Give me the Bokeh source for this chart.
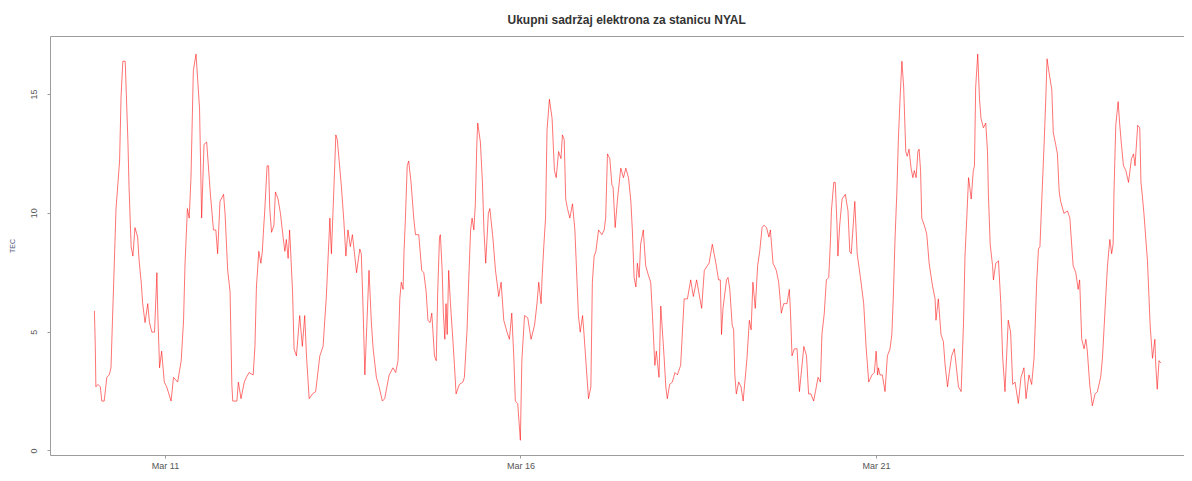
from datetime import datetime, timedelta
from bokeh.plotting import figure
from bokeh.models import Range1d, FixedTicker, DatetimeTickFormatter, LinearAxis
from bokeh.embed import file_html
from bokeh.resources import INLINE

title_text = "Ukupni sadržaj elektrona za stanicu NYAL"
y_label = "TEC"
start = datetime(2016, 3, 10)
tick_dates = [datetime(2016, 3, 11), datetime(2016, 3, 16), datetime(2016, 3, 21)]
y_ticks = [0, 5, 10, 15]

# hours since Mar 10 00:00
hours = [
    0.0, 0.3, 0.5, 1.2, 2.0, 2.5, 3.3, 4.2, 5.0, 5.6, 6.1, 6.8, 7.3, 7.9, 8.5, 9.0, 9.6, 10.4,
    11.3, 11.7, 12.4, 13.0, 13.7, 14.6, 15.1, 15.8, 16.3, 17.1, 18.0, 18.6, 19.4, 20.3, 21.1,
    21.4, 22.0, 22.7, 23.6, 24.4, 25.9, 26.7, 28.1, 29.3, 30.1, 30.6, 31.4, 32.0, 32.6, 33.4,
    34.3, 35.5, 36.2, 37.0, 37.9, 39.1, 40.2, 41.0, 41.6, 42.4, 43.6, 44.1, 45.0, 45.8, 46.4,
    46.7, 48.1, 48.6, 49.5, 50.6,
    51.3, 52.2, 53.6, 54.2, 54.7, 55.5, 56.2, 56.7, 57.0, 57.5, 58.3, 58.8, 59.2, 59.8, 60.6,
    61.1, 62.0, 62.8, 63.7, 64.3, 64.8, 65.4, 65.9, 66.9, 67.4, 68.2, 69.3, 70.2, 71.0, 71.6,
    72.5, 73.6, 74.7, 76.1, 77.2, 78.3, 79.5, 80.0, 80.9, 81.5, 82.0, 83.4, 84.2, 84.9, 85.6,
    86.4, 87.1, 87.9, 88.5, 89.6, 90.1, 90.7, 91.3, 92.7, 93.5, 94.1, 95.2, 96.1, 97.2, 98.0,
    99.5, 100.8, 101.7, 102.5, 103.1, 103.6, 104.2, 104.5,
    105.0, 105.6, 106.1, 106.9, 107.8, 108.4, 109.5, 110.5, 111.2, 112.0, 112.6, 113.3, 113.9,
    114.8, 115.4, 115.9, 116.5, 116.8, 117.4, 117.8, 118.3, 118.7, 119.1, 119.6, 120.2, 121.0,
    121.6, 122.1, 123.2, 124.4, 124.9, 125.8, 126.4, 127.0, 127.5, 128.1, 128.6, 129.1, 129.4,
    130.3, 131.0, 131.5, 132.1, 133.0, 133.5, 134.5, 135.4, 136.5, 137.3, 138.2, 139.3, 140.1,
    140.9, 141.6, 142.1, 142.9, 143.8, 144.3, 145.2, 146.3, 147.4, 148.6, 149.4, 150.0, 150.8,
    151.1, 151.7, 152.3, 152.8, 153.6, 154.5, 155.3, 155.9, 156.7, 157.5,
    158.0, 158.6, 159.1, 159.7, 160.5, 161.4, 162.2, 162.7, 163.4, 164.0, 164.8, 165.3, 165.9,
    166.8, 167.6, 168.1, 168.7, 169.3, 170.2, 171.3, 172.1, 172.6, 173.2, 174.0, 174.7, 175.1,
    175.8, 176.6, 177.7, 178.6, 179.4, 180.3, 181.1, 181.6, 182.2, 182.8, 183.3, 183.9, 184.4,
    185.3, 186.1, 187.0, 187.8, 188.4, 189.2, 189.7, 190.6, 191.2, 192.3, 192.9, 193.4, 194.2,
    195.1, 196.0, 196.8, 197.9, 199.1, 200.2, 201.3, 202.2, 203.3, 205.0, 205.9, 207.5, 208.6,
    209.8, 210.7,
    211.3, 211.7, 212.2, 213.4, 213.9, 214.5, 215.3, 215.8, 216.2, 216.7, 217.5, 218.3, 219.0,
    219.8, 220.3, 221.1, 221.7, 222.3, 223.1, 223.9, 224.6, 225.4, 226.0, 226.9, 227.7, 228.2,
    229.1, 230.2, 231.0, 231.9, 232.7, 233.8, 234.6, 235.0, 235.5, 236.3, 237.2, 238.0, 239.5,
    240.4, 241.1, 241.9, 242.8, 243.4, 244.3, 245.1, 245.6, 246.4, 247.1, 247.9, 248.5, 248.8,
    249.6, 250.1, 250.7, 251.0, 251.6, 252.4, 253.5, 254.4, 255.0, 255.5, 256.7, 257.5, 258.6,
    259.7, 260.5, 261.4, 262.5, 263.3, 263.9, 264.4,
    264.7, 265.2, 266.0, 266.9, 267.7, 268.6, 269.2, 269.7, 270.3, 270.9, 271.4, 272.0, 272.6,
    273.2, 273.9, 274.4, 275.0, 275.7, 276.3, 276.8, 277.4, 278.0, 278.4, 278.9, 279.3, 280.4,
    281.0, 281.8, 282.5, 283.0, 283.8, 284.1, 284.9, 285.8, 286.6, 287.2, 288.0, 288.6, 289.4,
    290.3, 291.7, 292.6, 293.4, 293.9, 294.5, 295.1, 296.0, 296.7, 297.1, 297.5, 298.2, 298.8,
    299.3, 300.1, 300.9, 301.5, 301.8, 302.4, 303.2, 303.5, 304.3, 305.2, 306.0, 306.6, 307.4,
    308.5, 309.3, 310.0, 310.8, 311.9, 312.8, 313.8, 314.5, 315.5, 316.4,
    317.2, 317.6, 318.1, 318.7, 319.2, 319.8, 320.6, 321.2, 321.6, 322.3, 323.2, 323.7, 324.5,
    325.1, 325.7, 326.2, 327.3, 328.5, 329.3, 330.4, 331.3, 332.1, 332.6, 333.3, 334.1, 334.7,
    335.2, 336.0, 336.9, 337.8, 338.6, 339.7, 340.3, 341.2, 342.0, 342.8, 343.4, 343.9, 344.2,
    344.8, 345.6, 346.1, 346.7, 347.4, 348.2, 349.1, 350.1, 350.8, 351.3, 352.2, 352.9, 353.3,
    353.8, 354.3, 355.5, 356.4, 357.2, 358.0, 358.3, 358.8, 359.4, 360.0,
]

tec = [
    5.9, 4.4, 2.7, 2.8, 2.7, 2.1, 2.1, 3.1, 3.2, 3.5, 5.5, 8.2, 10.2, 11.2, 12.2, 14.9, 16.4, 16.4,
    13.1, 11.1, 8.6, 8.2, 9.4, 9.0, 8.0, 7.1, 6.2, 5.4, 6.2, 5.4, 5.0, 5.0, 7.5,
    5.8, 3.5, 4.2, 2.9, 2.7, 2.1, 3.1, 2.9, 3.8, 5.5, 7.9, 10.2, 9.8, 11.5, 16.0,
    16.7, 14.4, 9.8, 12.9, 13.0, 10.9, 9.3, 9.3, 8.3, 10.5, 10.8, 10.0, 7.6, 6.7, 2.8,
    2.1, 2.1, 2.9, 2.2, 2.9,
    3.1, 3.3, 3.2, 4.4, 6.9, 8.4, 7.9, 8.4, 9.1, 10.1, 12.0, 12.0, 10.2, 9.2, 9.5,
    10.9, 10.6, 10.0, 9.0, 8.4, 8.9, 8.1, 9.3, 6.7, 4.3, 4.0, 5.7, 4.4, 5.7, 4.0,
    2.2, 2.4, 2.5, 4.0, 4.4, 6.5, 9.8, 8.3, 11.2, 13.3, 13.1, 11.1, 9.7, 8.2, 9.3,
    8.6, 9.1, 8.2, 7.5, 8.5, 8.3, 6.0, 3.2, 7.6, 5.4, 4.3, 3.1, 2.7, 2.1, 2.2,
    3.2, 3.5, 3.3, 3.8, 6.4, 7.1, 6.8, 8.3,
    9.8, 12.0, 12.2, 11.3, 9.8, 9.1, 9.1, 7.6, 7.5, 6.7, 5.5, 5.4, 5.8,
    4.0, 3.8, 6.7, 9.0, 9.1, 7.6, 5.8, 4.7, 6.2, 4.9, 7.6, 6.2, 4.7,
    3.5, 2.4, 2.8, 2.9, 3.1, 5.1, 7.3, 9.3, 9.8, 9.3, 10.4, 12.9, 13.8,
    13.0, 11.3, 9.3, 7.9, 10.0, 10.2, 9.0, 7.6, 6.5, 7.1, 5.5, 5.0, 4.7,
    5.8, 3.9, 2.1, 2.0, 0.45, 3.8, 5.7, 5.6, 4.7, 5.3, 6.2, 7.1, 6.2,
    7.2, 8.6, 9.8, 13.5, 14.8, 14.0, 11.8, 11.5, 12.6, 12.3,
    13.3, 13.1, 10.6, 10.2, 9.8, 10.4, 9.3, 7.8, 5.7, 5.0, 5.7, 4.9, 3.8,
    2.2, 2.7, 7.1, 8.2, 8.4, 9.3, 9.1, 9.3, 9.8, 12.5, 12.3, 11.2, 11.1,
    9.4, 10.6, 11.9, 11.5, 11.9, 11.5, 10.5, 9.3, 7.3, 6.9, 7.9, 7.3, 8.7,
    9.3, 7.8, 7.4, 7.1, 5.7, 3.6, 4.2, 3.1, 6.1, 4.0, 2.7, 2.2, 2.8,
    2.9, 3.3, 3.2, 3.6, 6.4, 6.4, 7.2, 6.5, 7.2, 6.0, 7.6, 7.9, 8.7,
    7.9, 7.2,
    7.2, 4.9, 6.0, 7.2, 7.3, 6.8, 5.3, 5.1, 3.2, 2.4, 2.9, 2.7, 2.1,
    3.2, 3.9, 5.5, 5.1, 7.1, 6.0, 7.8, 8.4, 9.4, 9.5, 9.4, 9.0, 9.3,
    7.9, 7.6, 7.1, 5.8, 6.2, 6.2, 6.8, 5.8, 4.0, 4.3, 4.3, 2.5, 4.4,
    4.0, 2.4, 2.4, 2.1, 2.5, 3.1, 2.9, 4.9, 5.8, 7.2, 7.3, 8.9, 10.1,
    11.3, 11.3, 9.5, 8.2, 9.5, 10.6, 10.8, 10.1, 8.4, 8.3, 10.5, 8.3, 7.3,
    6.2, 4.4, 2.9, 3.2, 3.3, 4.2, 3.2,
    3.5, 3.2, 3.2, 2.5, 4.0, 4.3, 4.9, 6.5, 9.0, 10.9, 13.1, 14.9, 16.4,
    15.3, 12.6, 12.4, 12.7, 11.9, 11.5, 11.8, 11.5, 12.6, 12.7, 11.8, 9.8, 9.4,
    9.1, 7.9, 7.3, 6.9, 6.4, 5.5, 6.4, 4.9, 4.6, 3.6, 2.7, 3.3, 4.0,
    4.3, 2.7, 2.5, 5.4, 8.2, 9.8, 11.5, 10.6, 11.8, 12.0, 15.3, 16.7, 14.8,
    14.0, 13.6, 13.8, 12.6, 10.8, 8.7, 7.8, 7.2, 7.9, 8.0, 6.2, 4.0, 2.5,
    5.5, 5.0, 2.8, 2.9, 2.0, 3.1, 3.5, 2.2, 3.2, 2.8,
    3.9, 5.3, 7.1, 8.5, 8.6, 10.5, 12.9, 14.9, 16.5, 15.9, 15.2, 13.4, 12.9,
    12.5, 10.9, 10.5, 10.0, 10.1, 9.8, 7.8, 7.5, 6.8, 7.2, 4.7, 4.3, 4.7,
    4.2, 2.8, 1.9, 2.4, 2.5, 3.1, 3.9, 6.0, 7.8, 8.9, 8.3, 8.7, 10.9,
    13.7, 14.7, 13.8, 12.9, 12.0, 11.8, 11.3, 12.3, 12.5, 12.0, 13.7, 13.6, 11.3,
    10.7, 10.0, 8.0, 5.3, 3.9, 4.7, 3.6, 2.6, 3.8, 3.7,
]

EPOCH = datetime(1970, 1, 1)


def to_ms(h):
    return (start + timedelta(hours=h) - EPOCH).total_seconds() * 1000.0


x_ms = [to_ms(h) for h in hours]
tick_ms = [(d - EPOCH).total_seconds() * 1000.0 for d in tick_dates]

FONT = "Liberation Sans"
BOX = "#9c9c9c"

p = figure(
    width=1184, height=473, x_axis_type="datetime",
    output_backend="svg", toolbar_location=None,
    x_range=Range1d(to_ms(-14.82), to_ms(368.0)),
    y_range=Range1d(-0.19, 17.44),
    min_border_left=50, min_border_right=0, min_border_top=36, min_border_bottom=14,
    background_fill_color="white", border_fill_color="white",
)
p.outline_line_color = None
p.xgrid.visible = False
p.ygrid.visible = False

p.title.text = title_text
p.title.align = "left"
p.title.offset = 457
p.title.standoff = 20
p.title.text_font = FONT
p.title.text_font_size = "12px"
p.title.text_font_style = "bold"
p.title.text_color = "#333333"

p.line(x_ms, tec, line_color="#ff0000", line_width=1, line_alpha=0.55)

xa = p.xaxis[0]
xa.ticker = FixedTicker(ticks=tick_ms)
xa.formatter = DatetimeTickFormatter(
    hours="%b %d", hourmin="%b %d", days="%b %d", months="%b %d", years="%b %d"
)
xa.axis_line_color = BOX
xa.major_tick_line_color = BOX
xa.major_tick_out = 3
xa.major_tick_in = 0
xa.minor_tick_line_color = None
xa.major_label_text_font = FONT
xa.major_label_text_font_size = "9px"
xa.major_label_text_color = "#555555"
xa.major_label_standoff = 2

ya = p.yaxis[0]
ya.ticker = FixedTicker(ticks=y_ticks)
ya.axis_line_color = BOX
ya.major_tick_line_color = BOX
ya.major_tick_out = 3
ya.major_tick_in = 0
ya.minor_tick_line_color = None
ya.major_label_orientation = "vertical"
ya.major_label_text_font = FONT
ya.major_label_text_font_size = "9px"
ya.major_label_text_color = "#555555"
ya.major_label_standoff = 10
ya.axis_label = y_label
ya.axis_label_text_font = FONT
ya.axis_label_text_font_size = "7px"
ya.axis_label_text_font_style = "normal"
ya.axis_label_text_color = "#55607f"
ya.axis_label_standoff = 13

top = LinearAxis(
    ticker=FixedTicker(ticks=[]),
    major_label_text_font_size="0px",
    major_tick_line_color=None,
    minor_tick_line_color=None,
    axis_line_color=BOX,
    major_label_standoff=0,
)
p.add_layout(top, "above")

open("out.html", "w").write(file_html(p, INLINE))
